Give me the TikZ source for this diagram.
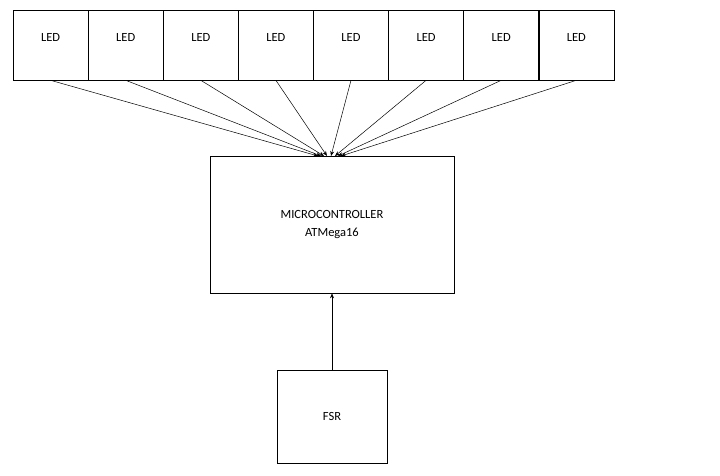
\documentclass[tikz,border=0pt]{standalone}
\usepackage{fontspec}
\setmainfont{Carlito}
\usetikzlibrary{arrows.meta}
\begin{document}
\begin{tikzpicture}[x=1pt,y=-1pt,
  blk/.style={draw,line width=0.6pt,minimum height=0pt,minimum width=0pt,inner sep=0pt,font=\fontsize{12.5}{15}\selectfont,align=center},
  con/.style={line width=0.5pt,-{Stealth[length=5pt,width=4pt]}}]
\useasboundingbox (0,0) rectangle (720,475);
\foreach \i in {0,...,7}{
  \node[blk,minimum width=75pt,minimum height=70pt,text depth=15pt] (l\i) at ({13+37.6+75.1*\i},45) {LED};
}
\node[blk,minimum width=244pt,minimum height=137pt,font=\fontsize{12.5}{18}\selectfont] (mc) at (332,224.5) {MICROCONTROLLER\\ATMega16};
\node[blk,minimum width=110pt,minimum height=93pt] (fsr) at (332,416.5) {FSR};
\foreach \i/\e in {0/318,1/321,2/324,3/327,4/331,5/335,6/338,7/341}{
  \coordinate (e\i) at (\e,156);
  \draw[con] (l\i.south) -- (e\i);
}
\draw[con] (fsr.north) -- (mc.south);
\end{tikzpicture}
\end{document}
